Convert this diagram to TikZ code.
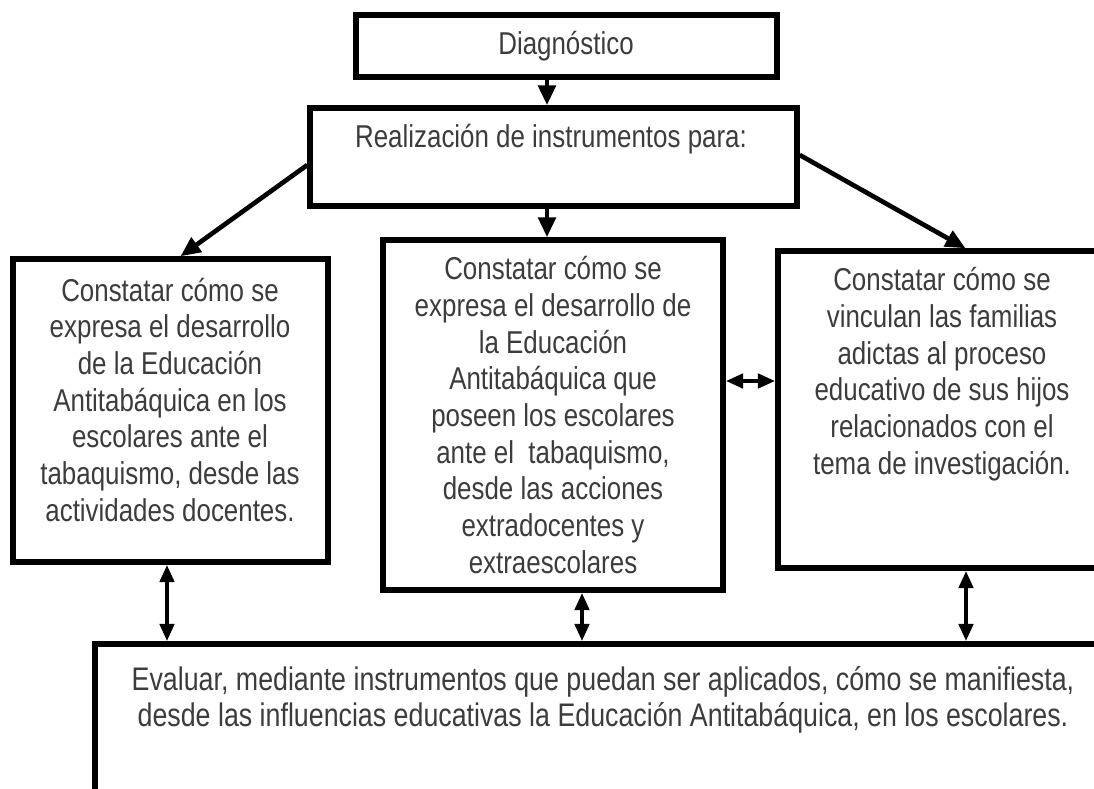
\documentclass[tikz,border=0pt]{standalone}
\usepackage{fontspec}
\setmainfont{Liberation Sans}[FakeStretch=0.82]
\usetikzlibrary{arrows.meta,calc,fit}
\definecolor{txtgray}{RGB}{60,60,60}

\tikzset{every picture/.style={line width=0.75pt}}
\tikzset{
  boxstyle/.style={draw=black, line width=4.1pt, inner sep=0pt},
  textstyle/.style={text=txtgray, align=center, inner sep=0pt, anchor=base,
    font=\fontsize{23.7}{27.5}\selectfont},
  arr/.style={line width=3.5pt, -{Triangle[length=15pt,width=13pt]}},
  darr/.style={line width=3.5pt, {Triangle[length=13pt,width=10.5pt]}-{Triangle[length=13pt,width=10.5pt]}}
}

\begin{document}
\begin{tikzpicture}[x=0.75pt,y=0.75pt,yscale=-1,xscale=1]
\useasboundingbox (0,0) rectangle (1094,788);

%Shape: Rectangle [Diagnostico]
\node[boxstyle, fit={(356,15) (777,77)}] (diag) {};
%Shape: Rectangle [Realizacion]
\node[boxstyle, fit={(310,108) (797,206)}] (instr) {};
%Shape: Rectangle [left]
\node[boxstyle, fit={(13,259) (328,562)}] (lbox) {};
%Shape: Rectangle [middle]
\node[boxstyle, fit={(383,240) (723,590)}] (mbox) {};
%Shape: Rectangle [right]
\node[boxstyle, fit={(778,251) (1107,568)}] (rbox) {};
%Shape: Rectangle [bottom]
\node[boxstyle, fit={(95,644) (1111,900)}] (bbox) {};

% Text Node (anchored at the baseline of the last line)
\node[textstyle] (diagtxt) at (566,55) {Diagnóstico};
\node[textstyle] (instrtxt) at (551,147) {Realización de instrumentos para:};
\node[textstyle] (ltxt) at (170,521) {Constatar cómo se\\expresa el desarrollo\\de la Educación\\Antitabáquica en los\\escolares ante el\\tabaquismo, desde las\\actividades docentes.};
\node[textstyle] (mtxt) at (553,573) {Constatar cómo se\\expresa el desarrollo de\\la Educación\\Antitabáquica que\\poseen los escolares\\ante el~~tabaquismo,\\desde las acciones\\extradocentes y\\extraescolares};
\node[textstyle] (rtxt) at (942,474) {Constatar cómo se\\vinculan las familias\\adictas al proceso\\educativo de sus hijos\\relacionados con el\\tema de investigación.};
\node[textstyle, font=\fontsize{24.5}{26.5}\selectfont] (btxt) at (603,726) {Evaluar, mediante instrumentos que puedan ser aplicados, cómo se manifiesta,\\desde las influencias educativas la Educación Antitabáquica, en los escolares.};

%Straight Lines
\draw[arr] (diag.south -| 547,0) -- (instr.north -| 547,0);
\draw[arr] (instr.south -| 547,0) -- (mbox.north -| 547,0);
\draw[arr] ($(instr.west)+(0,8)$) -- ($(lbox.north)+(10,0)$);
\draw[arr] ($(instr.east)+(0,-2)$) -- ($(rbox.north)+(23,0)$);

\coordinate (hlink) at ($(mbox.east)+(0,-34)$);
\draw[darr] (hlink) -- (hlink -| rbox.west);
\draw[darr] (lbox.south -| 167,0) -- (bbox.north -| 167,0);
\draw[darr] (mbox.south -| 582,0) -- (bbox.north -| 582,0);
\draw[darr] (rbox.south -| 966,0) -- (bbox.north -| 966,0);
\end{tikzpicture}
\end{document}
